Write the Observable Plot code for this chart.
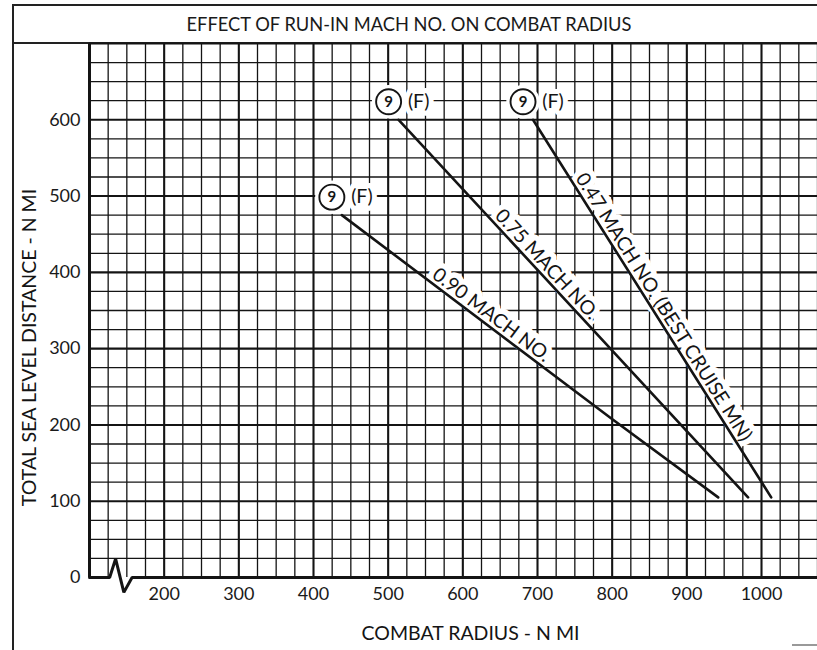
<!DOCTYPE html>
<html><head><meta charset="utf-8">
<script src="https://cdn.jsdelivr.net/npm/d3@7"></script>
<script src="https://cdn.jsdelivr.net/npm/@observablehq/plot@0.6"></script>
<style>
html,body{margin:0;padding:0;background:#fff;}
#page{position:relative;width:817px;height:650px;overflow:hidden;font-family:Lato,"Open Sans",sans-serif;color:#1a1a1a;}
#title{position:absolute;left:12px;top:4px;width:812px;height:36px;border-top:2px solid #222;border-left:2px solid #222;border-bottom:2px solid #222;text-align:center;line-height:36px;font-size:18.3px;box-sizing:content-box;}
#title span{position:relative;left:-11px;}
#leftrule{position:absolute;left:12px;top:4px;width:2px;height:646px;background:#222;}
#chart{position:absolute;left:0;top:42px;}
#chart svg{background:transparent;}
#corner{position:absolute;left:792px;top:644px;width:30px;height:2px;background:#999;}
</style></head>
<body>
<div id="page">
  <div id="leftrule"></div>
  <div id="title"><span>EFFECT OF RUN-IN MACH NO. ON COMBAT RADIUS</span></div>
  <div id="chart"></div>
  <div id="corner"></div>
</div>
<script>
// ---- data ----
const seriesNames = ["0.90 MACH NO.", "0.75 MACH NO.", "0.47 MACH NO. (BEST CRUISE MN)"];
const radius090 = [438, 798, 942];
const dist090   = [475, 209, 105];
const radius075 = [514, 982];
const dist075   = [600, 105];
const radius047 = [694, 1013];
const dist047   = [600, 105];
const labelRadius = [630, 702, 857];   // combat radius at which each curve label sits
const markerNumber = "9";
const markerNote = "(F)";
const xTicks = [200, 300, 400, 500, 600, 700, 800, 900, 1000];
const yTicks = [0, 100, 200, 300, 400, 500, 600];
const xLabel = "COMBAT RADIUS - N MI";
const yLabel = "TOTAL SEA LEVEL DISTANCE - N MI";
const axisBreakRadius = [100, 127, 135, 146, 157, 1075];
const axisBreakDist   = [0, 0, 24.5, -19.5, 0, 0];

// ---- layout ----
const W = 817, H = 608, ML = 89, MR = 0, MT = 1, MB = 73;
const xDomain = [100, 1075], yDomain = [0, 700];
const FONT = "Lato, 'Open Sans', sans-serif";
const INK = "#141414";
const LABEL_SIZE = 19.5;

const xs = d3.scaleLinear(xDomain, [ML, W - MR]);
const ys = d3.scaleLinear(yDomain, [H - MB, MT]);

const series = [
  {name: seriesNames[0], r: radius090, d: dist090},
  {name: seriesNames[1], r: radius075, d: dist075},
  {name: seriesNames[2], r: radius047, d: dist047}
];
const lineRows = series.flatMap(s => s.r.map((r, i) => ({series: s.name, r, d: s.d[i]})));
const starts = series.map(s => ({series: s.name, r: s.r[0], d: s.d[0]}));

// label anchors: on the curve, nudged perpendicular toward the upper right
const labelRows = series.map((s, k) => {
  const r = labelRadius[k];
  let i = 0;
  while (i < s.r.length - 2 && r > s.r[i + 1]) i++;
  const t = (r - s.r[i]) / (s.r[i + 1] - s.r[i]);
  const d = s.d[i] + t * (s.d[i + 1] - s.d[i]);
  const px = xs(r), py = ys(d);
  const dxp = xs(s.r[i + 1]) - xs(s.r[i]), dyp = ys(s.d[i + 1]) - ys(s.d[i]);
  const ang = Math.atan2(dyp, dxp);
  const off = 10.5;
  const qx = px + off * Math.sin(ang), qy = py - off * Math.cos(ang);
  return {text: s.name, r: xs.invert(qx), d: ys.invert(qy), angle: ang * 180 / Math.PI};
});

const xMinor = d3.range(125, 1076, 25).filter(v => v % 100 !== 0);
const xMajor = d3.range(200, 1076, 100);
const yMinor = d3.range(25, 701, 25).filter(v => v % 100 !== 0);
const yMajor = d3.range(100, 701, 100);

const markerDx = -10, markerDy = -18, noteDx = 20;

const chart = Plot.plot({
  width: W, height: H,
  marginLeft: ML, marginRight: MR, marginTop: MT, marginBottom: MB,
  x: {domain: xDomain},
  y: {domain: yDomain},
  style: {fontFamily: FONT, fontSize: "18px", color: "#1a1a1a", background: "transparent", overflow: "visible"},
  marks: [
    Plot.ruleX(xMinor, {stroke: INK, strokeWidth: 1.3}),
    Plot.ruleY(yMinor, {stroke: INK, strokeWidth: 1.3}),
    Plot.ruleX(xMajor, {stroke: INK, strokeWidth: 2.1}),
    Plot.ruleY(yMajor, {stroke: INK, strokeWidth: 2.1}),
    // knock-outs behind annotations
    Plot.text(labelRows, {x: "r", y: "d", text: "text", rotate: "angle", lineAnchor: "middle", textAnchor: "middle",
      fontSize: LABEL_SIZE, fill: "white", stroke: "white", strokeWidth: 11, strokeLinejoin: "round"}),
    Plot.text(starts, {x: "r", y: "d", text: () => markerNote, dx: noteDx, dy: markerDy, fontSize: LABEL_SIZE,
      fill: "white", stroke: "white", strokeWidth: 10, strokeLinejoin: "round"}),
    Plot.dot(starts, {x: "r", y: "d", r: 16, dx: markerDx, dy: markerDy, fill: "white", stroke: "white"}),
    // axes lines
    Plot.ruleX([xDomain[0]], {stroke: INK, strokeWidth: 3}),
    Plot.line(axisBreakRadius.map((r, i) => ({r, d: axisBreakDist[i]})), {x: "r", y: "d", stroke: INK, strokeWidth: 3, strokeLinejoin: "miter"}),
    // data curves
    Plot.line(lineRows, {x: "r", y: "d", z: "series", stroke: INK, strokeWidth: 2.6}),
    // curve labels
    Plot.text(labelRows, {x: "r", y: "d", text: "text", rotate: "angle", lineAnchor: "middle", textAnchor: "middle",
      fontSize: LABEL_SIZE, fill: INK}),
    // 9 (F) markers
    Plot.dot(starts, {x: "r", y: "d", r: 12.5, dx: markerDx, dy: markerDy, fill: "white", stroke: INK, strokeWidth: 1.9}),
    Plot.text(starts, {x: "r", y: "d", text: () => markerNumber, dx: markerDx, dy: markerDy, fontSize: 15, fontWeight: "bold", fill: INK}),
    Plot.text(starts, {x: "r", y: "d", text: () => markerNote, dx: noteDx, dy: markerDy, fontSize: LABEL_SIZE, fill: INK}),
    // axes
    Plot.axisX(xTicks, {tickSize: 0, tickPadding: 10, label: null, fontSize: 18, tickFormat: "d"}),
    Plot.axisY(yTicks, {tickSize: 0, tickPadding: 9, label: null, fontSize: 18, tickFormat: "d"}),
    Plot.text([xLabel], {frameAnchor: "bottom", textAnchor: "middle", lineAnchor: "middle", dx: 17, dy: 56, fontSize: LABEL_SIZE, fill: INK}),
    Plot.text([yLabel], {frameAnchor: "left", textAnchor: "middle", lineAnchor: "middle", dx: -60, dy: 37, rotate: -90, fontSize: LABEL_SIZE, fill: INK})
  ]
});
document.getElementById("chart").appendChild(chart);
</script>
</body></html>
